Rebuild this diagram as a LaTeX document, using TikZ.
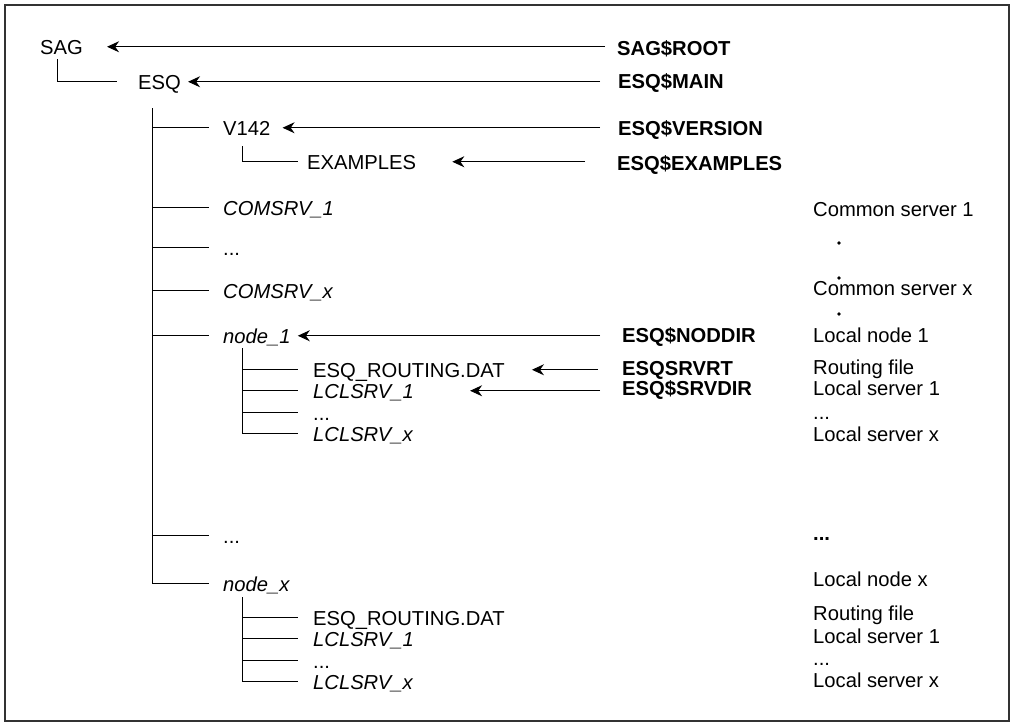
\documentclass[tikz,border=0pt]{standalone}
\usepackage{fontspec}
\setmainfont{Liberation Sans}
\usetikzlibrary{arrows.meta,positioning}

\begin{document}
\begin{tikzpicture}[
    x=1pt, y=-1pt,
    every node/.style={font=\fontsize{20.2}{24}\selectfont},
    entry/.style={anchor=base west, inner sep=0pt, text height=14.5pt, text depth=0pt},
    dirname/.style={entry, font=\fontsize{20.2}{24}\selectfont\itshape},
    envvar/.style={entry, font=\fontsize{20.2}{24}\selectfont\bfseries},
    branch/.style={line width=1pt, shorten >=14pt},
    ptr/.style={-{Stealth[length=12pt, width=11pt]}, line width=1pt},
]
\useasboundingbox (0,0) rectangle (1015,724);
\draw[line width=1.4pt, black!80] (5,5) rectangle (1009,721);

% directory tree
\node[entry] (sag) at (40,54) {SAG};
\node[entry] (esq) at (138,89) {ESQ};
\node[entry] (v142) at (223,135) {V142};
\node[entry] (examples) at (307,169) {EXAMPLES};
\node[dirname] (comsrv1) at (223,215) {COMSRV\_1};
\node[entry] (cdots) at (223,255) {...};
\node[dirname] (comsrvx) at (223,298) {COMSRV\_x};
\node[dirname] (node1) at (223,343) {node\_1};
\node[entry] (route1) at (313,377) {ESQ\_ROUTING.DAT};
\node[dirname] (lcl11) at (313,398) {LCLSRV\_1};
\node[entry] (ldots1) at (313,420) {...};
\node[dirname] (lcl1x) at (313,441) {LCLSRV\_x};
\node[entry] (ndots) at (223,543) {...};
\node[dirname] (nodex) at (223,591) {node\_x};
\node[entry] (routex) at (313,625) {ESQ\_ROUTING.DAT};
\node[dirname] (lclx1) at (313,646) {LCLSRV\_1};
\node[entry] (ldotsx) at (313,668) {...};
\node[dirname] (lclxx) at (313,689) {LCLSRV\_x};

\coordinate (sagtrunk) at (57,59);
\coordinate (esqtrunk) at (152,108);
\coordinate (vtrunk) at (242,146);
\coordinate (n1trunk) at (242,348);
\coordinate (nxtrunk) at (242,597);

\draw[branch, shorten >=21pt] (sagtrunk) |- (esq.west);
\foreach \c in {v142,comsrv1,cdots,comsrvx,node1,ndots,nodex}
  \draw[branch] (esqtrunk) |- (\c.west);
\draw[branch, shorten >=9pt] (vtrunk) |- (examples.west);
\foreach \c in {route1,lcl11,ldots1,lcl1x}
  \draw[branch, shorten >=15pt] (n1trunk) |- (\c.west);
\foreach \c in {routex,lclx1,ldotsx,lclxx}
  \draw[branch, shorten >=15pt] (nxtrunk) |- (\c.west);

% logical names
\node[envvar] (sagroot) at (617,55) {SAG\$ROOT};
\node[envvar] (esqmain) at (618,88) {ESQ\$MAIN};
\node[envvar] (esqversion) at (618,135) {ESQ\$VERSION};
\node[envvar] (esqexamples) at (617,170) {ESQ\$EXAMPLES};
\node[envvar] (esqnoddir) at (622,342) {ESQ\$NODDIR};
\node[envvar] (esqsrvrt) at (622,375) {ESQSRVRT};
\node[envvar] (esqsrvdir) at (622,395) {ESQ\$SRVDIR};

\draw[ptr, shorten <=12pt, shorten >=24pt] (sagroot.west |- sag.east) -- (sag.east);
\draw[ptr, shorten <=18pt, shorten >=7pt] (esqmain.west |- esq.east) -- (esq.east);
\draw[ptr, shorten <=18pt, shorten >=12pt] (esqversion.west |- v142.east) -- (v142.east);
\draw[ptr, shorten <=32pt, shorten >=36pt] (esqexamples.west |- examples.east) -- (examples.east);
\draw[ptr, shorten <=22pt, shorten >=7pt] (esqnoddir.west |- node1.east) -- (node1.east);
\draw[ptr, shorten <=24pt, shorten >=27pt] (esqsrvrt.west |- route1.east) -- (route1.east);
\draw[ptr, shorten <=22pt, shorten >=56pt] (esqsrvdir.west |- lcl11.east) -- (lcl11.east);

% descriptions
\node[entry] (cs1) at (813,216) {Common server 1};
\node[entry] (csx) at (813,295) {Common server x};
\node[entry] (ln1) at (813,342) {Local node 1};
\node[entry] (rf1) at (813,374) {Routing file};
\node[entry] (ls11) at (813,395) {Local server 1};
\node[entry] (lsdots1) at (813,419) {...};
\node[entry] (ls1x) at (813,441) {Local server x};
\node[envvar] (bdots) at (813,540) {...};
\node[entry] (lnx) at (813,586) {Local node x};
\node[entry] (rfx) at (813,620) {Routing file};
\node[entry] (lsx1) at (813,643) {Local server 1};
\node[entry] (lsdotsx) at (813,665) {...};
\node[entry] (lsxx) at (813,687) {Local server x};
\foreach \y in {243,278,314}
  \fill (839,\y) circle (1.8pt);
\end{tikzpicture}
\end{document}
